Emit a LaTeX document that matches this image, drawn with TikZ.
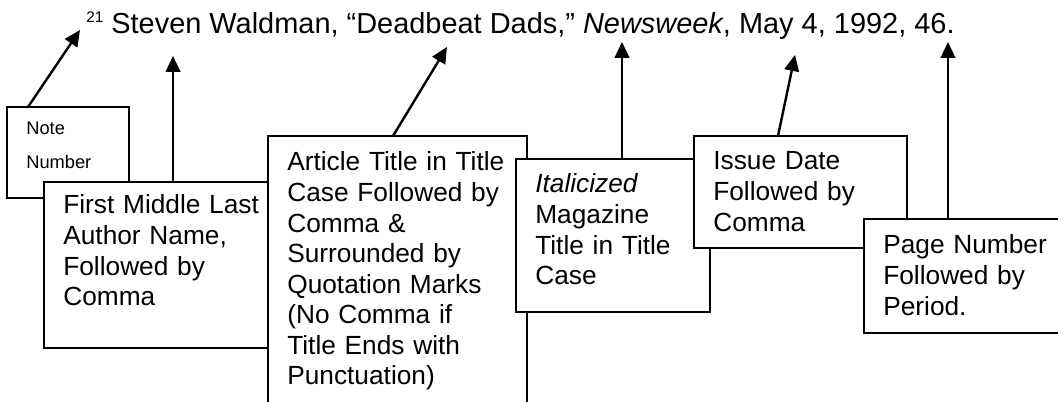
\documentclass[tikz,border=0pt]{standalone}
\usepackage{fontspec}
\setmainfont{Liberation Sans}
\usetikzlibrary{arrows.meta}

\begin{document}
\begin{tikzpicture}[x=0.75pt,y=-0.75pt,
  labelbox/.style={draw,line width=1.5pt,fill=white,anchor=north west,outer sep=0pt,
    align=left,inner xsep=14.5pt,inner ysep=0pt,text height=25.5pt,
    font=\fontsize{19.7pt}{22.9pt}\selectfont},
  pointer/.style={line width=1.8pt,-{Triangle[length=12pt,width=11pt]}}]
\useasboundingbox (0,0) rectangle (1058,402);
\clip (0,0) rectangle (1058,402);

\node[anchor=base west,inner sep=0pt,font=\fontsize{21.7pt}{26pt}\selectfont] (cite) at (86,34)
  {\raisebox{8.25pt}{\fontsize{11.5pt}{12pt}\selectfont 21} Steven Waldman, “Deadbeat Dads,” \textit{Newsweek}, May 4, 1992, 46.};
\coordinate (numtip) at (80,30);
\coordinate (authtip) at (173,56);
\coordinate (arttip) at (447,47);
\coordinate (magtip) at (622,42);
\coordinate (datetip) at (795,55);
\coordinate (pagetip) at (948,42);

% boxes, each one over the one before
\node[labelbox,text width=62.5pt,text height=21pt,text depth=47.25pt,
  font=\fontsize{13.7pt}{25.5pt}\selectfont] (note) at (7,107) {Note\\Number};
\node[labelbox,text width=163pt,text height=24pt,text depth=100.5pt] (author) at (44,182)
  {First Middle Last\\Author Name,\\Followed by\\Comma};
\node[labelbox,text width=165.25pt,text height=26.25pt,text depth=191.25pt] (article) at (268,136)
  {Article Title in Title\\Case Followed by\\Comma \&\\Surrounded by\\Quotation Marks\\(No Comma if\\Title Ends with\\Punctuation)};
\node[labelbox,text width=116.5pt,text depth=89.25pt] (magazine) at (516,159)
  {\textit{Italicized}\\Magazine\\Title in Title\\Case};
\node[labelbox,text width=130.75pt,text depth=58.5pt] (date) at (694,136)
  {Issue Date\\Followed by\\Comma};
\node[labelbox,text width=129.25pt,text height=26.25pt,text depth=59.25pt] (page) at (864,219)
  {Page Number\\Followed by\\Period.};

\foreach \b/\dx/\t in {note/15.75pt/numtip, author/96.75pt/authtip, article/93.75pt/arttip,
    magazine/79.5pt/magtip, date/63pt/datetip, page/63pt/pagetip}
  \draw[pointer] ([xshift=\dx]\b.north west) -- (\t);
\end{tikzpicture}
\end{document}
